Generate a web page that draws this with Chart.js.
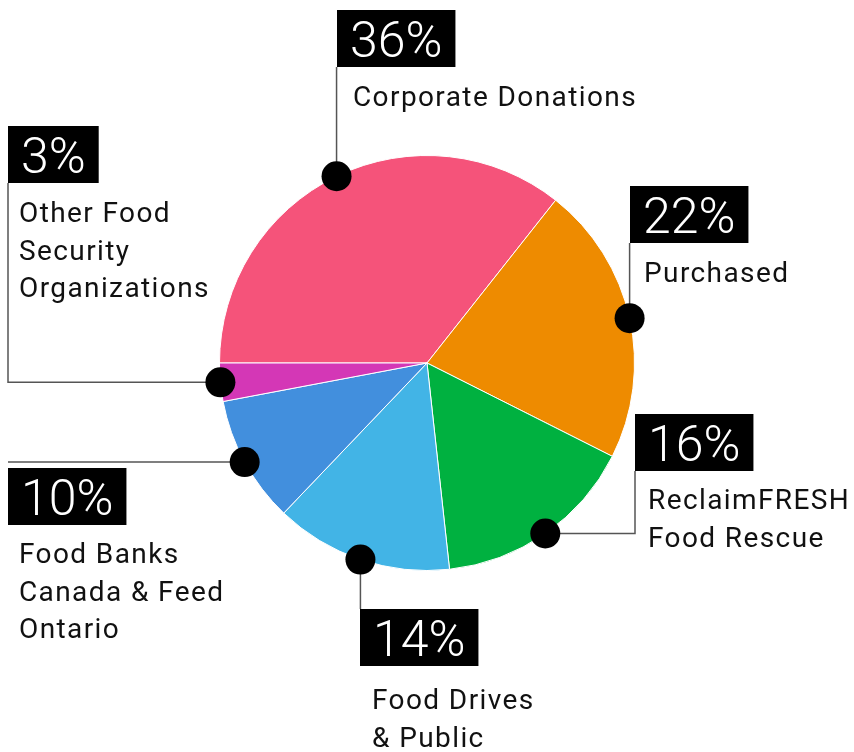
<!DOCTYPE html>
<html lang="en">
<head>
    <meta charset="UTF-8">
    <title>Food sources pie</title>
    <script src="https://cdn.jsdelivr.net/npm/chart.js"></script>
    <style>
        html, body {
            margin: 0;
            padding: 0;
            background: #fff;
            overflow: hidden;
        }
        canvas { display: block; }
    </style>
</head>
<body>
    <canvas id="pieChart" width="854" height="752"></canvas>

    <script>
        // Daten
        const categories = [
            'Corporate Donations',
            'Purchased',
            'ReclaimFRESH Food Rescue',
            'Food Drives & Public',
            'Food Banks Canada & Feed Ontario',
            'Other Food Security Organizations'
        ];
        const values = [36, 22, 16, 14, 10, 3];
        const pctLabels = ['36%', '22%', '16%', '14%', '10%', '3%'];
        const labelLines = [
            ['Corporate Donations'],
            ['Purchased'],
            ['ReclaimFRESH', 'Food Rescue'],
            ['Food Drives', '& Public'],
            ['Food Banks', 'Canada & Feed', 'Ontario'],
            ['Other Food', 'Security', 'Organizations']
        ];
        const colors = ['#F5537A', '#EE8B00', '#00B140', '#42B4E6', '#428FDD', '#D437B6'];

        // Platzierung der Beschriftungen (Box oben links, Linienverlauf)
        // bx/lineX = null -> an Punkt-x ausrichten
        const callouts = [
            { bx: null, by: 10,  lineX: null, anchor: 'bottom', textDx: 16, textDy: 39 },
            { bx: null, by: 186, lineX: null, anchor: 'bottom', textDx: 14, textDy: 39 },
            { bx: 635,  by: 414, lineX: 635,  anchor: 'bottom', textDx: 13, textDy: 38 },
            { bx: null, by: 609, lineX: null, anchor: 'top',    textDx: 12, textDy: 43 },
            { bx: 8,    by: 468, lineX: 8,    anchor: 'none',   textDx: 11, textDy: 38 },
            { bx: 8,    by: 126, lineX: 8,    anchor: 'bottom', textDx: 11, textDy: 39 }
        ];

        const BOX_H = 57;
        const PAD_X = 13;

        const calloutPlugin = {
            id: 'callouts',
            afterDraw(chart) {
                const ctx = chart.ctx;
                const arcs = chart.getDatasetMeta(0).data;
                ctx.save();
                arcs.forEach((arc, i) => {
                    const c = callouts[i];
                    const mid = (arc.startAngle + arc.endAngle) / 2;
                    const r = arc.outerRadius;
                    const dx = arc.x + Math.cos(mid) * r;
                    const dy = arc.y + Math.sin(mid) * r;

                    const bx = c.bx === null ? Math.round(dx) : c.bx;
                    const lx = c.lineX === null ? dx : c.lineX;
                    let endY = dy;
                    if (c.anchor === 'bottom') endY = c.by + BOX_H;
                    if (c.anchor === 'top') endY = c.by;

                    // Verbindungslinie
                    ctx.strokeStyle = '#555';
                    ctx.lineWidth = 1.5;
                    ctx.beginPath();
                    ctx.moveTo(dx, dy);
                    ctx.lineTo(lx, dy);
                    ctx.lineTo(lx, endY);
                    ctx.stroke();

                    // Prozent-Box
                    ctx.font = '300 50px Roboto';
                    ctx.letterSpacing = '0px';
                    const tw = ctx.measureText(pctLabels[i]).width;
                    ctx.fillStyle = '#000';
                    ctx.fillRect(bx, c.by, tw + PAD_X * 2, BOX_H);
                    ctx.fillStyle = '#fff';
                    ctx.textBaseline = 'alphabetic';
                    ctx.textAlign = 'left';
                    ctx.fillText(pctLabels[i], bx + PAD_X, c.by + 47);

                    // Kategorietext
                    ctx.font = '400 28px Roboto';
                    ctx.letterSpacing = '1.4px';
                    ctx.fillStyle = '#111';
                    labelLines[i].forEach((line, k) => {
                        ctx.fillText(line, bx + c.textDx, c.by + BOX_H + c.textDy + k * 37.5);
                    });

                    // Punkt
                    ctx.fillStyle = '#000';
                    ctx.beginPath();
                    ctx.arc(dx, dy, 15, 0, Math.PI * 2);
                    ctx.fill();
                });
                ctx.restore();
            }
        };

        const ctx = document.getElementById('pieChart').getContext('2d');
        const pieChart = new Chart(ctx, {
            type: 'pie',
            data: {
                labels: categories,
                datasets: [{
                    data: values,
                    backgroundColor: colors,
                    borderColor: '#fff',
                    borderWidth: 1
                }]
            },
            options: {
                responsive: false,
                animation: false,
                rotation: -90,
                layout: {
                    padding: { left: 219, right: 219, top: 155, bottom: 181 }
                },
                plugins: {
                    legend: { display: false },
                    tooltip: { enabled: false }
                }
            },
            plugins: [calloutPlugin]
        });
    </script>
</body>
</html>
